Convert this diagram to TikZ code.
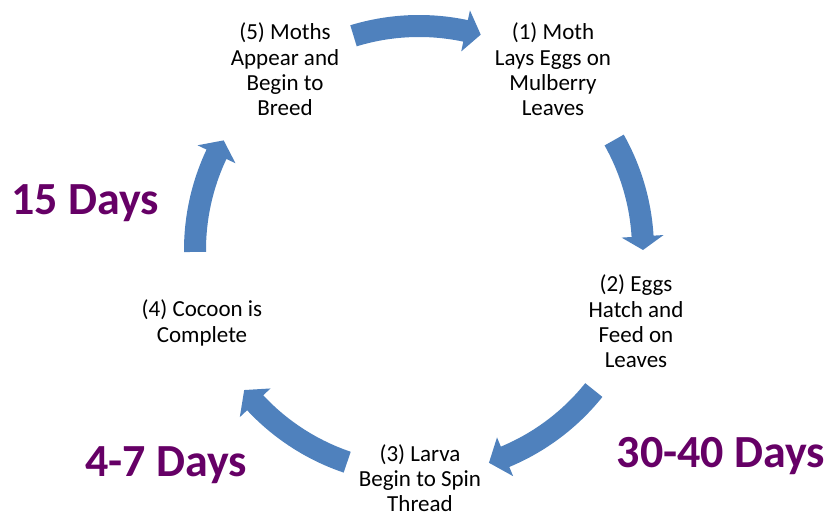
\documentclass[tikz,border=0pt]{standalone}
\usepackage{fontspec}
\setmainfont{Carlito}
\definecolor{arrowblue}{RGB}{79,129,189}
\definecolor{labelpurple}{RGB}{102,0,102}
\newcommand{\cyclearrow}[3]{%
  \fill[cyc] (#1:235) arc[start angle=#1, end angle=#2, radius=235pt]
    -- (#2:245) -- (#3:224) -- (#2:203) -- (#2:213)
    arc[start angle=#2, end angle=#1, radius=213pt] -- cycle;}
\begin{document}
\begin{tikzpicture}[x=1pt,y=1pt,
  stage/.style={align=center, font=\fontsize{23}{25.3}\selectfont, text=black, inner sep=0pt},
  days/.style={font=\fontsize{46}{50}\selectfont\bfseries, text=labelpurple, inner sep=0pt, anchor=base},
  cyc/.style={fill=arrowblue}]
\useasboundingbox (0,0) rectangle (833,515);
\node[stage] (n5) at (285,445.5) {(5) Moths\\Appear and\\Begin to\\Breed};
\node[stage] (n1) at (553,445.5) {(1) Moth\\Lays Eggs on\\Mulberry\\Leaves};
\node[stage] (n2) at (636,193.5) {(2) Eggs\\Hatch and\\Feed on\\Leaves};
\node[stage] (n3) at (420,37) {(3) Larva\\Begin to Spin\\Thread};
\node[stage] (n4) at (202,192) {(4) Cocoon is\\Complete};
\node[days] (l1) at (85,300) {15 Days};
\node[days] (l2) at (166,39) {4-7 Days};
\node[days] (l3) at (721,48) {30-40 Days};
\begin{scope}[shift={(419,265)}]
  \cyclearrow{107}{78}{74}
  \cyclearrow{29.4}{3.5}{0}
  \cyclearrow{-38.7}{-67.4}{-71.8}
  \cyclearrow{-108.7}{-137}{-141.3}
  \cyclearrow{180.5}{154.7}{150.7}
\end{scope}
\end{tikzpicture}
\end{document}
